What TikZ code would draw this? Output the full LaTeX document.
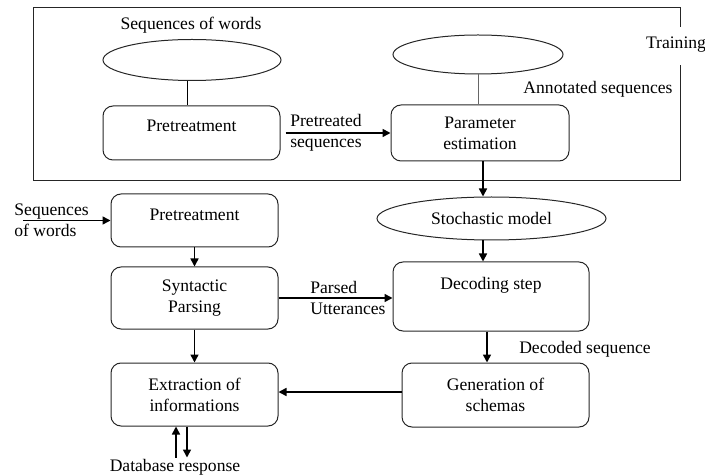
\documentclass[tikz,border=0pt]{standalone}
\usepackage{fontspec}
\setmainfont{Liberation Serif}
\usetikzlibrary{shapes.geometric, arrows.meta, positioning}
\tikzstyle{caja} = [draw=black!85, line width=0.5pt, rectangle, rounded corners=5pt, inner sep=0pt, align=center]
\tikzstyle{elipse} = [draw=black!85, line width=0.5pt, ellipse, inner sep=0pt]
\tikzstyle{arriba} = [text height=6.2pt, text depth=#1]
\tikzstyle{flecha} = [line width=0.8pt, -{Triangle[length=4pt, width=4pt]}]
\tikzstyle{rotulo} = [inner sep=0pt, align=left]

\begin{document}
\begin{tikzpicture}[x=0.5pt, y=-0.5pt, font=\fontsize{8.8}{10.5}\selectfont]
	\useasboundingbox (0,0) rectangle (705,475);
	\draw[line width=0.5pt, black!85] (680,27) -- (680,8) -- (33,8) -- (33,181) -- (680,181) -- (680,65);
	\node[rotulo] (training) at (676,45) {Training};
	\node[rotulo] (seqtop) at (191,25) {Sequences of words};
	\node[elipse, minimum width=89pt, minimum height=20.5pt] (e1) at (192,60) {};
	\node[caja, arriba=7.4pt, minimum width=88.5pt, minimum height=27pt] (pre1) at (191.5,133) {Pretreatment};
	\node[elipse, minimum width=85pt, minimum height=19.5pt] (e2) at (478,54.5) {};
	\node[caja, minimum width=89pt, minimum height=28pt] (param) at (480,133) {Parameter\\estimation};
	\node[rotulo] (annot) at (598,89) {Annotated sequences};
	\node[elipse, minimum width=114.5pt, minimum height=21.5pt] (stoch) at (491.5,218.5) {Stochastic model};
	\node[caja, arriba=12.9pt, minimum width=98pt, minimum height=34.5pt] (decod) at (491,296.5) {Decoding step};
	\node[rotulo] (decoded) at (585,349) {Decoded sequence};
	\node[caja, minimum width=93.5pt, minimum height=32pt] (gener) at (495.5,395) {Generation of\\schemas};
	\node[rotulo, anchor=west] (words) at (14,220.5) {Sequences\\of words};
	\node[caja, arriba=5.9pt, minimum width=83.5pt, minimum height=26.5pt] (pre2) at (194.5,220.5) {Pretreatment};
	\node[caja, minimum width=83.5pt, minimum height=31pt] (synt) at (194.5,298) {Syntactic\\Parsing};
	\node[caja, minimum width=83.5pt, minimum height=31.5pt] (extr) at (194.5,394.5) {Extraction of\\informations};
	\node[rotulo] (dbase) at (175,467) {Database response};

	\draw[line width=0.5pt] ([xshift=-2.5pt]e1.south) -- ([xshift=-2.5pt]e1.south |- pre1.north);
	\draw[line width=0.5pt, black!60] (e2.south) -- (e2.south |- param.north);
	\draw[flecha] ([xshift=2.5pt]pre1.east) -- (param.west)
		node[rotulo, anchor=west, xshift=4.5pt] at (pre1.east) {Pretreated\\sequences};
	\draw[flecha] ([xshift=1.5pt]param.south) -- ([xshift=1.5pt]param.south |- stoch.north);
	\draw[flecha] ([xshift=-4.25pt]stoch.south) -- ([xshift=-4.25pt]stoch.south |- decod.north);
	\draw[flecha] ([xshift=-2pt]decod.south) -- ([xshift=-2pt]decod.south |- gener.north);
	\draw[flecha] ([yshift=1.5pt]gener.west) -- ([yshift=1.5pt]gener.west -| extr.east);
	\draw[flecha] ([xshift=4.5pt]words.west) -- (pre2.west);
	\draw[flecha] (pre2.south) -- (synt.north);
	\draw[flecha] (synt.south) -- (extr.north);
	\draw[flecha] (synt.east) -- (synt.east -| decod.west)
		node[rotulo, anchor=west, xshift=15.5pt] at (synt.east) {Parsed\\Utterances};
	\draw[flecha] ([xshift=-9.25pt]extr.south) ++(0,-15.5pt) -- ([xshift=-9.25pt]extr.south);
	\draw[flecha] ([xshift=-3.75pt]extr.south) -- ++(0,-15.5pt);
\end{tikzpicture}
\end{document}
